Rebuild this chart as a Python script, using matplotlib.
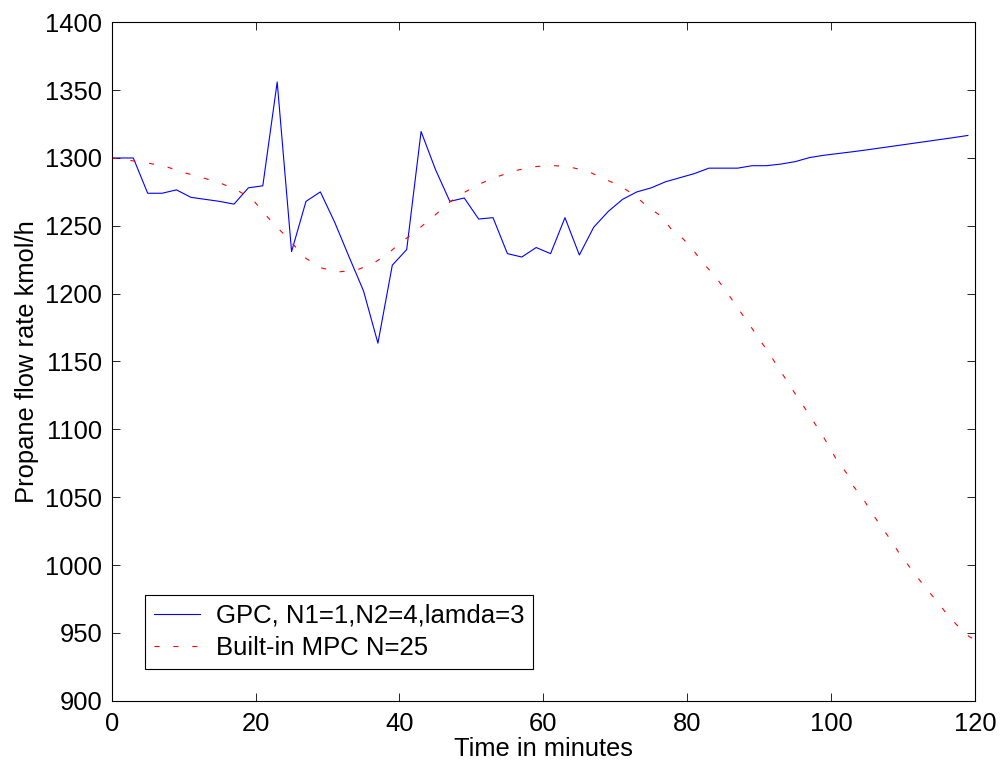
import matplotlib
matplotlib.use("Agg")
import matplotlib.pyplot as plt

plt.rcParams['font.family'] = ['Liberation Sans', 'DejaVu Sans']
plt.rcParams['lines.scale_dashes'] = False

# GPC controller output (N1=1, N2=4, lambda=3)
gpc_time = [0, 1, 3, 5, 7, 9, 11, 13, 15, 17, 19, 21, 23, 25, 27, 29, 31, 33, 35,
            37, 39, 41, 43, 45, 47, 49, 51, 53, 55, 57, 59, 61, 63, 65, 67, 69, 71,
            73, 75, 77, 79, 81, 83, 85, 87, 89, 91, 93, 95, 97, 99, 101, 103, 105,
            107, 109, 111, 113, 115, 117, 119]
gpc_flow = [1300, 1300, 1300, 1274, 1274, 1276.5, 1271, 1269.5, 1268, 1266, 1278,
            1279.5, 1356, 1231, 1268, 1275, 1252.5, 1227, 1202, 1163.5, 1221,
            1232.5, 1319.5, 1291.5, 1268, 1270.5, 1255, 1256, 1229.5, 1227, 1234,
            1229.5, 1256, 1228.5, 1249, 1260.5, 1269.5, 1275, 1278, 1282.5, 1285.5,
            1288.5, 1292.5, 1292.5, 1292.5, 1294.3, 1294.3, 1295.5, 1297.3, 1300.3,
            1302, 1303.3, 1304.6, 1306, 1307.5, 1309, 1310.5, 1312, 1313.5, 1315,
            1316.6]

# Built-in MPC controller output (horizon N=25)
mpc_time = [0, 2.8, 5.3, 7.9, 10.2, 12.6, 15.1, 17.3, 19.5, 21, 22.4, 23.9, 25.4,
            27, 29.1, 31.5, 34.1, 36.4, 38.3, 40.1, 41.9, 43.7, 45.4, 47.1, 49,
            51.2, 53.5, 55.9, 58.4, 61, 63.6, 66.1, 68.4, 70.7, 72.8, 74.5, 76.4,
            77.7, 79.5, 80.9, 82.2, 83.7, 85.1, 86.3, 87.6, 88.8, 90.1, 91.3, 92.5,
            93.7, 94.9, 96.1, 97.4, 98.5, 99.7, 100.7, 102.1, 103.1, 104.5, 105.6,
            106.9, 108.1, 109.3, 110.7, 111.9, 113.3, 114.7, 116, 117.5, 119.2, 120]
mpc_flow = [1300, 1298, 1296, 1293, 1289, 1285.5, 1281.5, 1276.6, 1270, 1260.5,
            1252, 1244, 1235.3, 1226, 1219, 1216, 1217.5, 1222.5, 1229, 1237.5,
            1244.4, 1252.4, 1260, 1268, 1274.6, 1281, 1286, 1290.4, 1293.4, 1294.6,
            1293.4, 1290.4, 1284.7, 1279.5, 1271.9, 1264, 1257, 1248, 1240, 1231.6,
            1222.4, 1214, 1204, 1195, 1185, 1176, 1165.5, 1157, 1146.5, 1137, 1127,
            1117.6, 1107, 1098, 1087.6, 1078, 1068, 1058, 1048.4, 1039, 1028.7,
            1019.8, 1010, 1000, 991.6, 982, 973.5, 964.4, 955.6, 947.2, 945]

x_ticks = [0, 20, 40, 60, 80, 100, 120]
y_ticks = [900, 950, 1000, 1050, 1100, 1150, 1200, 1250, 1300, 1350, 1400]

FS = 18.4

fig = plt.figure(figsize=(10.02, 7.74), dpi=100)
ax = fig.add_axes([0.1115, 0.0947, 0.8616, 0.8765])

ax.plot(gpc_time, gpc_flow, color='#0000ff', lw=0.8,
        label='GPC, N1=1,N2=4,lamda=3')
ax.plot(mpc_time, mpc_flow, color='#ff0000', lw=0.8, linestyle=(0, (3.6, 10)),
        label='Built-in MPC N=25')

ax.set_xlim(0, 120)
ax.set_ylim(900, 1400)
ax.set_xticks(x_ticks)
ax.set_yticks(y_ticks)
ax.tick_params(direction='in', length=5.5, width=0.6, top=True, right=True,
               labelsize=FS, color='black')
ax.tick_params(axis='x', pad=8)
ax.tick_params(axis='y', pad=7)
for sp in ax.spines.values():
    sp.set_linewidth(0.8)
    sp.set_color('black')

ax.set_xlabel('Time in minutes', fontsize=FS, labelpad=1)
ax.set_ylabel('Propane flow rate kmol/h', fontsize=FS, labelpad=4)

leg = ax.legend(loc='upper left', bbox_to_anchor=(145 / 1002, 1 - 595 / 774),
                bbox_transform=fig.transFigure, borderaxespad=0, fontsize=18.5,
                handlelength=1.8, handletextpad=0.6, borderpad=0.35,
                labelspacing=0.3, fancybox=False, framealpha=1,
                edgecolor='black')
leg.get_frame().set_linewidth(0.8)

fig.savefig('out.png', dpi=100)
